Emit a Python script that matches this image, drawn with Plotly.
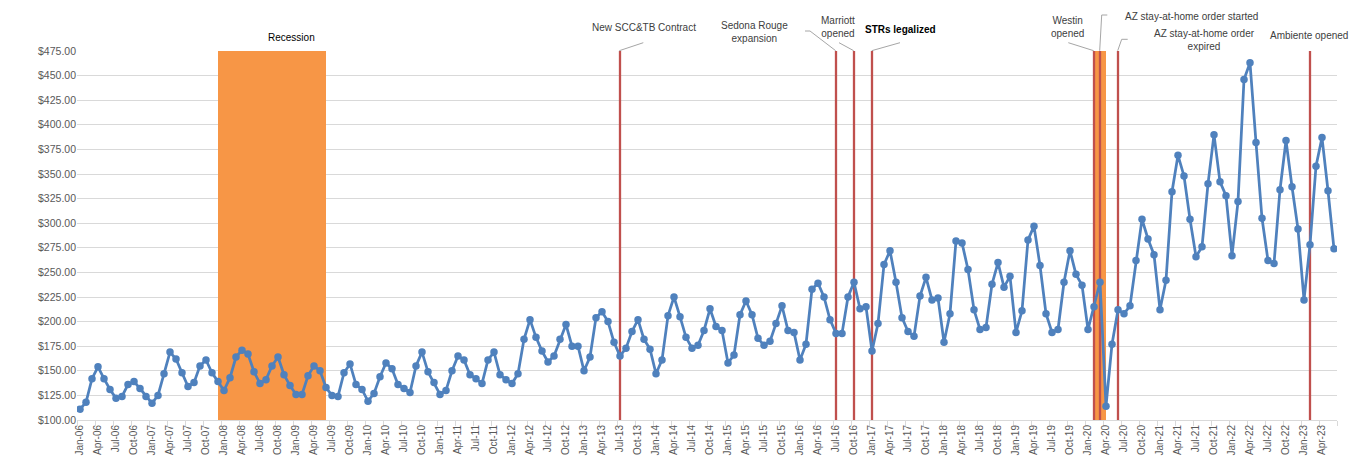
import pandas as pd
import plotly.graph_objects as go

# monthly average daily rate, Jan-06 .. Jun-23
adr_2006 = [111, 118, 142, 154, 142, 131, 122, 124, 136, 139, 132, 124]
adr_2007 = [117, 125, 147, 169, 162, 148, 134, 138, 155, 161, 148, 139]
adr_2008 = [130, 143, 164, 171, 167, 149, 137, 141, 155, 164, 146, 135]
adr_2009 = [126, 126, 145, 155, 150, 133, 125, 124, 148, 157, 136, 131]
adr_2010 = [119, 127, 144, 158, 152, 136, 132, 128, 155, 169, 149, 138]
adr_2011 = [126, 130, 150, 165, 161, 146, 142, 137, 161, 169, 146, 141]
adr_2012 = [137, 147, 182, 202, 184, 170, 159, 165, 182, 197, 175, 175]
adr_2013 = [150, 164, 204, 210, 200, 179, 165, 173, 190, 202, 182, 172]
adr_2014 = [147, 161, 206, 225, 205, 184, 173, 176, 191, 213, 195, 191]
adr_2015 = [158, 166, 207, 221, 207, 183, 176, 180, 198, 216, 191, 189]
adr_2016 = [161, 177, 233, 239, 225, 202, 188, 188, 225, 240, 213, 215]
adr_2017 = [170, 198, 258, 272, 240, 204, 190, 185, 226, 245, 222, 224]
adr_2018 = [179, 208, 282, 280, 253, 212, 192, 194, 238, 260, 235, 246]
adr_2019 = [189, 211, 283, 297, 257, 208, 189, 192, 240, 272, 248, 237]
adr_2020 = [192, 215, 240, 114, 177, 212, 208, 216, 262, 304, 284, 268]
adr_2021 = [212, 242, 332, 369, 348, 304, 266, 276, 340, 390, 342, 328]
adr_2022 = [267, 322, 446, 463, 382, 305, 262, 259, 334, 384, 337, 294]
adr_2023 = [222, 278, 358, 387, 333, 274]

adr = (adr_2006 + adr_2007 + adr_2008 + adr_2009 + adr_2010 + adr_2011
       + adr_2012 + adr_2013 + adr_2014 + adr_2015 + adr_2016 + adr_2017
       + adr_2018 + adr_2019 + adr_2020 + adr_2021 + adr_2022 + adr_2023)

months = [d.strftime('%b-%y') for d in pd.date_range('2006-01-01', periods=len(adr), freq='MS')]

# event lines (month label)
event_months = ['Jul-13', 'Jul-16', 'Oct-16', 'Jan-17', 'Feb-20', 'Mar-20', 'Jun-20', 'Feb-23']
# shaded recessions (first month, last month)
recessions = [('Dec-07', 'Jun-09'), ('Feb-20', 'Apr-20')]

BLUE = '#4F81BD'
RED = '#C0504D'
ORANGE = '#F79646'
LEADER = '#A6A6A6'
FONT = 'Liberation Sans, Arial, sans-serif'

PAGE = 8  # body margin of the html page
FW, FH = 1369 - PAGE, 464 - PAGE
L, T, W, H = 77, 51, 1260, 369  # plot area in screen pixels


def px2x(px):
    # screen column -> month index
    return (px - L) / 6.0 - 0.5


def py2y(py):
    # screen row -> paper y
    return (T + H - py) / H


idx = list(range(len(adr)))
pos = {m: i for i, m in enumerate(months)}

fig = go.Figure()

fig.add_trace(go.Scatter(
    x=idx, y=adr, mode='lines+markers',
    line=dict(color=BLUE, width=2.75),
    marker=dict(color=BLUE, size=7.5),
    hovertext=months, showlegend=False))

shapes = []
for a, b in recessions:
    shapes.append(dict(type='rect', xref='x', yref='y', layer='between',
                       x0=pos[a], x1=pos[b], y0=100, y1=475,
                       fillcolor=ORANGE, line=dict(width=0)))
for m in event_months:
    shapes.append(dict(type='line', xref='x', yref='y', layer='between',
                       x0=pos[m], x1=pos[m], y0=100, y1=475,
                       line=dict(color=RED, width=2.3)))

# leader lines, screen pixel paths
leaders = [
    [(619.3, 50.7), (643.3, 42.7)],
    [(835.7, 50.7), (810, 31), (805, 31)],
    [(853.7, 50.7), (839, 42.7)],
    [(871.7, 50.7), (900, 42.7)],
    [(1093.7, 50.7), (1068.3, 42.7)],
    [(1099.7, 50.7), (1101.7, 15), (1107.3, 15)],
    [(1117.7, 50.7), (1121.7, 39.3), (1127.7, 39.3)],
]
for path in leaders:
    for (xa, ya), (xb, yb) in zip(path[:-1], path[1:]):
        shapes.append(dict(type='line', xref='x', yref='paper',
                           x0=px2x(xa), x1=px2x(xb), y0=py2y(ya), y1=py2y(yb),
                           line=dict(color=LEADER, width=1)))

# right edge of chart area
shapes.append(dict(type='line', xref='x', yref='paper',
                   x0=px2x(1365), x1=px2x(1365), y0=py2y(PAGE), y1=py2y(470),
                   line=dict(color='#D9D9D9', width=1)))

labels = [
    ('Recession', 291.7, 37, '#000000'),
    ('New SCC&TB Contract', 643.7, 28, '#404040'),
    ('Sedona Rouge<br>expansion', 754.7, 31.8, '#404040'),
    ('Marriott<br>opened', 838, 26.8, '#404040'),
    ('<b>STRs legalized</b>', 900, 29.3, '#000000'),
    ('Westin<br>opened', 1067.7, 26.8, '#404040'),
    ('AZ stay-at-home order started', 1191.7, 16, '#404040'),
    ('AZ stay-at-home order<br>expired', 1204.3, 40.3, '#404040'),
    ('Ambiente opened', 1309.3, 36, '#404040'),
]
annotations = [dict(text=t, x=px2x(x), y=py2y(y), xref='x', yref='paper',
                    showarrow=False, xanchor='center', yanchor='middle',
                    font=dict(family=FONT, size=10, color=c))
               for t, x, y, c in labels]

fig.update_layout(
    width=FW, height=FH,
    margin=dict(l=L - PAGE, r=FW - (L - PAGE) - W, t=T - PAGE, b=FH - (T - PAGE) - H),
    paper_bgcolor='white', plot_bgcolor='white',
    font=dict(family=FONT, size=10, color='#595959'),
    shapes=shapes, annotations=annotations,
    xaxis=dict(
        range=[-0.5, len(adr) - 0.5],
        tickmode='array', tickvals=idx[::3], ticktext=months[::3],
        tickangle=-90, ticks='', showgrid=False,
        showline=True, linecolor='#D9D9D9', linewidth=1,
        tickfont=dict(size=10, color='#595959'),
        minor=dict(tickmode='linear', tick0=-0.5, dtick=3, ticks='outside',
                   ticklen=5, tickcolor='#D9D9D9', showgrid=False),
        zeroline=False, automargin=False),
    yaxis=dict(
        range=[100, 475], dtick=25, tickformat='$,.2f',
        gridcolor='#D9D9D9', gridwidth=1, zeroline=False,
        ticks='', tickfont=dict(size=10.5, color='#595959'), automargin=False),
)

fig.write_html('out.html')
